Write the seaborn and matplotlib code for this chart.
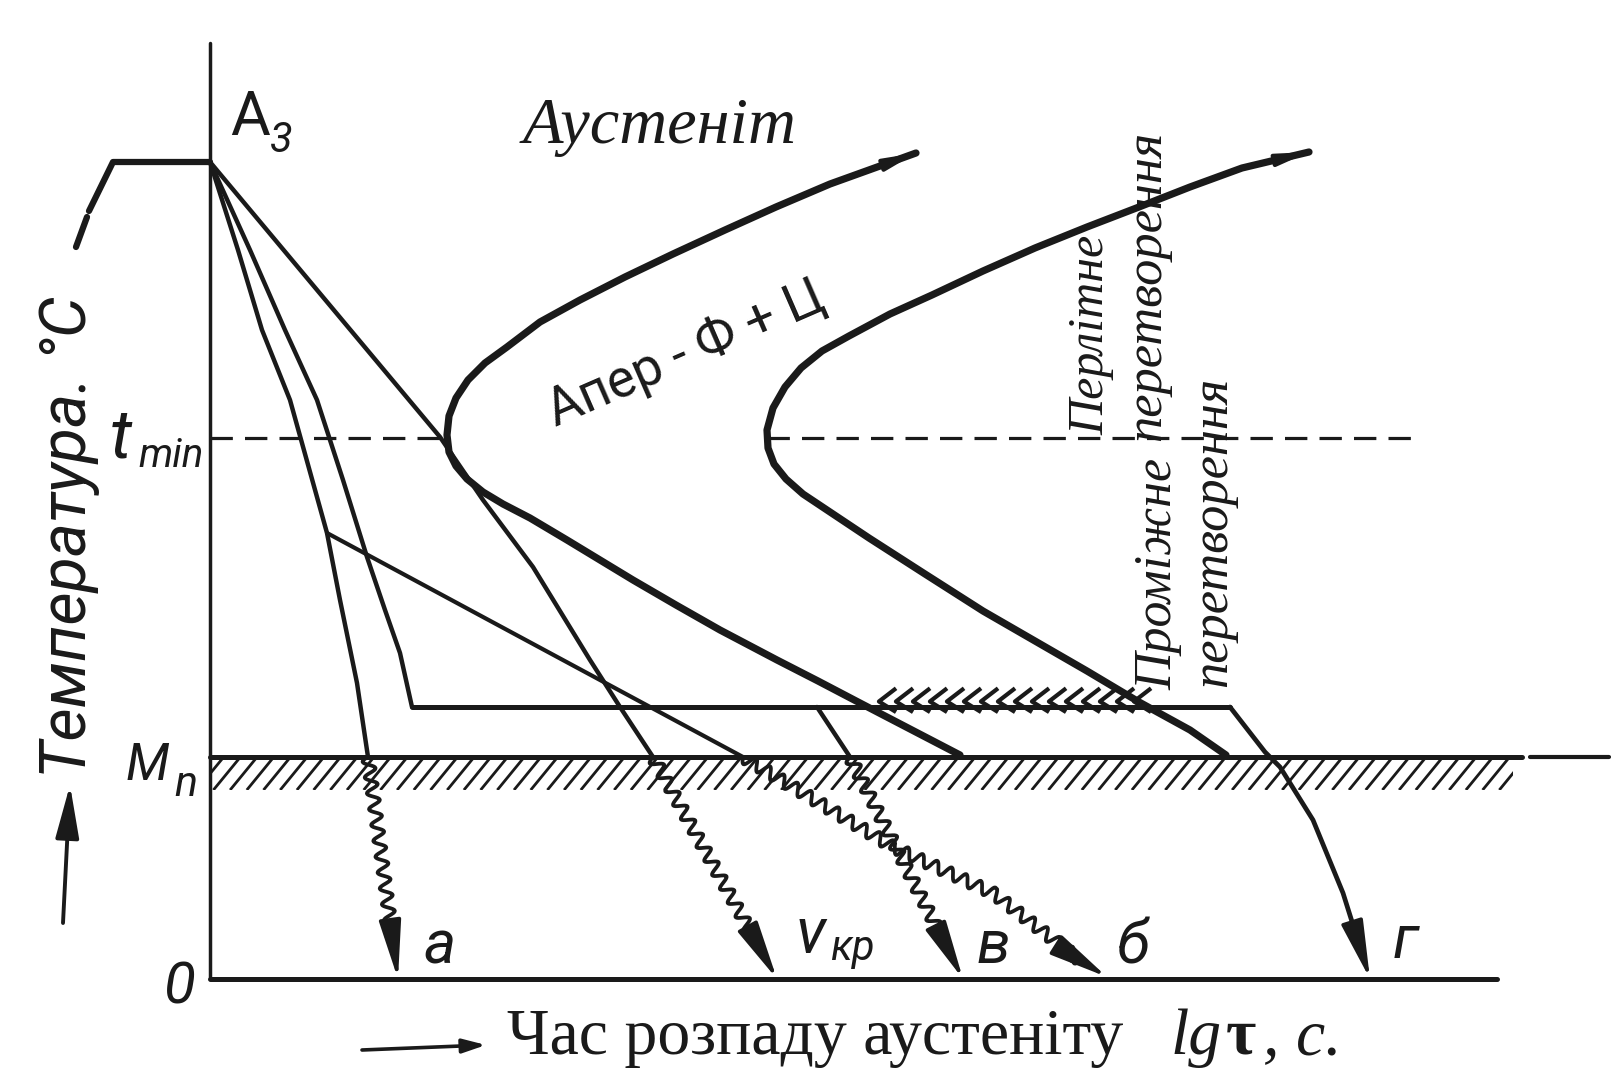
import numpy as np
import matplotlib
matplotlib.use("Agg")
import matplotlib.pyplot as plt
import seaborn as sns
from matplotlib import font_manager
from matplotlib.path import Path
from matplotlib.patches import Rectangle
from matplotlib.collections import LineCollection

# %%
# Дані: lg τ (умовні поділки) і температура (умовні °C)
T_TOP = 936      # верх осі температур
T_A3 = 817
T_TMIN = 541
T_HOLD = 272     # ізотермічна витримка
T_MN = 222
T_HATCH = 189    # низ заштрихованої смуги
T_CHEV = 278

axis_x = [0.0, 12.87]
mn_x = [0.0, 13.12]
mn_tail_x = [13.20, 13.99]
hatch_x = [0.0, 13.03]
tmin_left_x = [0.0, 2.37]
tmin_right_x = [5.57, 12.03]

# нагрів до A3
heat_lo_x = [-1.34, -1.23]
heat_lo_t = [732, 762]
heat_hi_x = [-1.21, -0.97, 0.0]
heat_hi_t = [768, 817, 817]

# С-криві: початок і кінець перлітного / проміжного перетворення
c1_x = [7.06, 6.70, 6.20, 5.66, 5.15, 4.63, 4.15, 3.70, 3.30, 2.97, 2.75, 2.58, 2.46, 2.39,
        2.37, 2.39, 2.46, 2.57, 2.73, 2.93, 3.20, 3.57, 3.90, 4.23, 4.66, 5.10, 5.67, 6.08,
        6.50, 7.00, 7.50]
c1_t = [826, 813, 795, 772, 749, 725, 702, 679, 657, 632, 616, 599, 581, 563,
        544, 527, 513, 500, 487, 475, 461, 439, 419, 399, 374, 349, 319, 298,
        276, 250, 224]
c2_x = [10.99, 10.32, 9.80, 9.29, 8.77, 8.25, 7.73, 7.22, 6.80, 6.39, 6.12, 5.91, 5.75, 5.63,
        5.57, 5.58, 5.64, 5.76, 5.93, 6.20, 6.59, 7.15, 7.73, 8.25, 8.77, 9.29, 9.80, 10.16]
c2_t = [827, 811, 792, 772, 752, 731, 708, 684, 665, 643, 628, 611, 592, 571,
        549, 531, 515, 500, 485, 467, 441, 405, 368, 338, 308, 277, 249, 224]

# криві охолодження
a_x = [0.0, 0.28, 0.52, 0.80, 1.17, 1.30, 1.47, 1.58]
a_t = [817, 729, 649, 579, 446, 379, 296, 222]
a_wave_x = [1.58, 1.88]
a_wave_t = [222, 0]

hold_in_x = [0.0, 0.40, 0.75, 1.07, 1.33, 1.57, 1.75, 1.90, 2.02]
hold_in_t = [817, 729, 649, 579, 499, 422, 369, 326, 272]
hold_x = [2.02, 10.20]

vkr_x = [0.0, 2.30, 2.73, 3.23, 3.80, 4.10, 4.43]
vkr_t = [817, 542, 479, 412, 319, 272, 222]
vkr_wave_x = [4.43, 5.67]
vkr_wave_t = [222, 0]

b_x = [1.17, 5.33]
b_t = [446, 222]
b_wave_x = [5.33, 6.83, 7.83, 8.70, 8.97]
b_wave_t = [222, 132, 86, 19, 2]

v_x = [6.07, 6.40]
v_t = [272, 222]
v_wave_x = [6.40, 7.53]
v_wave_t = [222, 0]

g_x = [10.20, 10.55, 10.70, 11.03, 11.33, 11.60]
g_t = [272, 227, 212, 159, 86, 0]

chev_x = [6.75, 6.92, 7.09, 7.26, 7.43, 7.60, 7.77, 7.94, 8.11, 8.28, 8.45, 8.62,
          8.79, 8.96, 9.13, 9.30]

# %%
sns.set_theme(style="white")
fonts = {f.name for f in font_manager.fontManager.ttflist}
HAND = "Roboto" if "Roboto" in fonts else "DejaVu Sans"
SERIF = "Liberation Serif"
plt.rcParams["font.family"] = [HAND, "DejaVu Sans"]

fig = plt.figure(figsize=(16.23, 10.89), dpi=100)
ax = fig.add_axes([0, 0, 1, 1])
ax.set_xlim(-2.10, 14.13)
ax.set_ylim(-110, 979)
ax.axis("off")
R = fig.canvas.get_renderer()
PX = 100  # пікселів на поділку lg τ (по T — 1 px)


def curve(x, t, lw):
    sns.lineplot(x=x, y=t, sort=False, estimator=None, color="k", lw=lw, ax=ax,
                 solid_joinstyle="round", solid_capstyle="round")


def head(x, t, size=20, lw=2.6, back=44):
    # наконечник на останньому відрізку, повертає основу наконечника
    dx, dt = x[-1] - x[-2], t[-1] - t[-2]
    f = back / np.hypot(dx * PX, dt)
    base = (x[-1] - dx * f, t[-1] - dt * f)
    ax.annotate("", xy=(x[-1], t[-1]), xytext=base,
                arrowprops=dict(arrowstyle="-|>,head_length=1.8,head_width=0.34",
                                color="k", lw=lw, shrinkA=0, shrinkB=0, mutation_scale=size))
    return base


def wavy(x, t):
    base = head(x, t)
    ln, = ax.plot(list(x[:-1]) + [base[0]], list(t[:-1]) + [base[1]], color="k", lw=2.7)
    ln.set_sketch_params(scale=6, length=16, randomness=1)


def fit(txt, length, vertical=False):
    bb = txt.get_window_extent(R)
    cur = bb.height if vertical else bb.width
    txt.set_fontsize(txt.get_fontsize() * length / cur)


# осі
curve([0.0, 0.0], [0, T_TOP], 2.5)
curve(axis_x, [0, 0], 3.6)
curve(heat_lo_x, heat_lo_t, 4.5)
curve(heat_hi_x, heat_hi_t, 4.5)

# Мн і штриховка під нею (крок штриха ~17 px, нахил ~50°)
band = Rectangle((hatch_x[0], T_HATCH), hatch_x[1] - hatch_x[0], T_MN - T_HATCH,
                 fill=False, lw=0, transform=ax.transData)
ax.add_patch(band)
starts = np.arange(hatch_x[0] - 0.3, hatch_x[1], 0.167)
segs = [[(s, T_HATCH), (s + 0.27, T_MN)] for s in starts]
hatch = LineCollection(segs, colors="k", linewidths=2.0)
ax.add_collection(hatch)
hatch.set_clip_path(band)
curve(mn_x, [T_MN, T_MN], 3.6)
curve(mn_tail_x, [T_MN, T_MN], 3.0)

# t min
for xs in (tmin_left_x, tmin_right_x):
    ax.plot(xs, [T_TMIN, T_TMIN], color="k", lw=2.3, ls=(0, (7, 3.8)))

# С-криві
curve(c1_x, c1_t, 5.2)
curve(c2_x, c2_t, 5.2)
head(c1_x[1::-1], c1_t[1::-1], size=10, lw=3, back=22)
head(c2_x[1::-1], c2_t[1::-1], size=10, lw=3, back=22)

# охолодження
curve(a_x, a_t, 3.2)
wavy(a_wave_x, a_wave_t)
curve(hold_in_x, hold_in_t, 3.2)
curve(hold_x, [T_HOLD, T_HOLD], 3.6)
curve(vkr_x, vkr_t, 3.2)
wavy(vkr_wave_x, vkr_wave_t)
curve(b_x, b_t, 3.0)
wavy(b_wave_x, b_wave_t)
curve(v_x, v_t, 3.2)
wavy(v_wave_x, v_wave_t)
base = head(g_x, g_t)
curve(g_x[:-1] + [base[0]], g_t[:-1] + [base[1]], 3.4)

chev = Path([(0.8, 1.0), (-0.5, 0.0), (0.8, -0.8)], [Path.MOVETO, Path.LINETO, Path.LINETO])
ax.plot(chev_x, [T_CHEV] * len(chev_x), ls="none", marker=chev, ms=19, mfc="none", mec="k", mew=3.0)

# %%
# підписи
hand = dict(family=[HAND, "DejaVu Sans"], style="italic", color="k")
upright = dict(family=[HAND, "DejaVu Sans"], color="k")
ax.text(0.20, 844, "A", ha="left", va="baseline", fontsize=44, **upright)
ax.text(0.60, 827, "3", ha="left", va="baseline", fontsize=30, **hand)
ax.text(-1.00, 522, "t", ha="left", va="baseline", fontsize=50, **hand)
ax.text(-0.72, 512, "min", ha="left", va="baseline", fontsize=29, **hand)
ax.text(-0.84, 199, "M", ha="left", va="baseline", fontsize=37, **hand)
ax.text(-0.36, 183, "n", ha="left", va="baseline", fontsize=31, **hand)
ax.text(-0.30, -24, "0", ha="center", va="baseline", fontsize=42, **hand)
ax.text(2.14, 16, "а", ha="left", va="baseline", fontsize=44, **hand)
ax.text(5.86, 26, "v", ha="left", va="baseline", fontsize=46, **hand)
ax.text(6.20, 19, "кр", ha="left", va="baseline", fontsize=30, **hand)
ax.text(7.67, 16, "в", ha="left", va="baseline", fontsize=44, **hand)
ax.text(9.07, 16, "б", ha="left", va="baseline", fontsize=44, **hand)
ax.text(11.83, 21, "г", ha="left", va="baseline", fontsize=44, **hand)

phase = ax.text(4.76, 625, "Апер - Ф + Ц", ha="center", va="center", fontsize=40,
                rotation_mode="anchor", **upright)
fit(phase, 297)
phase.set_rotation(23.5)

ylab = ax.text(-1.41, 442, "Температура. °С", ha="center", va="center", rotation=90,
               fontsize=40, **hand)
fit(ylab, 481, vertical=True)
ax.annotate("", xy=(-1.40, 194), xytext=(-1.47, 56),
            arrowprops=dict(arrowstyle="-|>,head_length=1.8,head_width=0.4", color="k",
                            lw=2.8, shrinkA=0, shrinkB=0, mutation_scale=18))

serif_it = dict(family=SERIF, style="italic", color="k")
aus = ax.text(4.50, 836, "Аустеніт", ha="center", va="baseline", fontsize=46, **serif_it)
fit(aus, 274)

w1 = ax.text(8.81, 544, "Перлітне", rotation=90, ha="center", va="bottom", fontsize=38, **serif_it)
fit(w1, 200, vertical=True)
w2 = ax.text(9.37, 538, "перетворення", rotation=90, ha="center", va="bottom", fontsize=38, **serif_it)
fit(w2, 310, vertical=True)
w3 = ax.text(9.48, 289, "Проміжне", rotation=90, ha="center", va="bottom", fontsize=38, **serif_it)
fit(w3, 232, vertical=True)
ax.text(10.03, 292, "перетворення", rotation=90, ha="center", va="bottom",
        fontsize=w2.get_fontsize(), **serif_it)

xlab = ax.text(2.97, -75, "Час розпаду аустеніту", ha="left", va="baseline", fontsize=46,
               family=SERIF, color="k")
fit(xlab, 616)
fs = xlab.get_fontsize()
ax.text(9.60, -75, "lg", ha="left", va="baseline", fontsize=fs, **serif_it)
ax.text(10.16, -75, "τ", ha="left", va="baseline", fontsize=fs, family=SERIF, weight="bold", color="k")
ax.text(10.53, -75, ", с.", ha="left", va="baseline", fontsize=fs, **serif_it)
ax.annotate("", xy=(2.76, -66), xytext=(1.52, -71),
            arrowprops=dict(arrowstyle="-|>,head_length=1.0,head_width=0.3", color="k",
                            lw=2.6, shrinkA=0, shrinkB=0, mutation_scale=14))

fig.savefig("out.png", dpi=100)
